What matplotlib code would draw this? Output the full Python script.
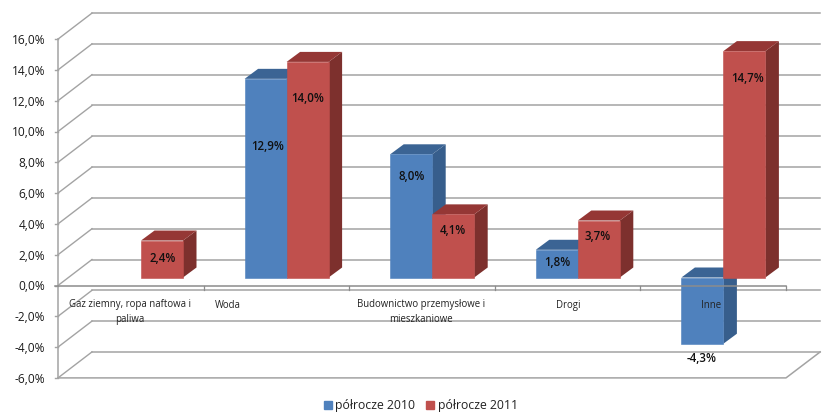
import matplotlib.pyplot as plt
from matplotlib.patches import Polygon, Patch

plt.rcParams["font.family"] = ["Open Sans", "DejaVu Sans"]

# Data
categories = ["Gaz ziemny, ropa naftowa i\npaliwa", "Woda",
              "Budownictwo przemysłowe i\nmieszkaniowe", "Drogi", "Inne"]
values_2010 = [None, 12.9, 8.0, 1.8, -4.3]
values_2011 = [2.4, 14.0, 4.1, 3.7, 14.7]
y_levels = [16, 14, 12, 10, 8, 6, 4, 2, 0, -2, -4, -6]
series_names = ["półrocze 2010", "półrocze 2011"]

# Pixel layout of the reference
X0, CAT_W = 58, 145.6
Y0, PCT_H = 285.5, 15.4


def px(x, y):
    # pixel position in the image -> data coordinates of the axes
    return (x - X0) / CAT_W, (Y0 - y) / PCT_H


# Label positions in pixels
cat_label_pos = [(130, 312), (228, 305.5), (421, 312), (568, 305.5), (711, 305.5)]
label_pos_2010 = [None, (268, 146), (412, 177), (557, 263), (702, 358)]
label_pos_2011 = [(163, 258), (308, 99), (453, 231), (598, 237), (748, 79)]

WALL_DX, WALL_DY = 34 / CAT_W, 26 / PCT_H
BAR_DX, BAR_DY = 13.5 / CAT_W, 10 / PCT_H
BAR_START = (99 - X0) / CAT_W
BAR_W = 42 / CAT_W
BASE = 8 / PCT_H

BLUE = ("#4F81BD", "#3B6494", "#375E8C")
RED = ("#C0504D", "#953735", "#7D302D")
GRID = "#A3A3A3"

fig = plt.figure(figsize=(8.37, 4.13), dpi=100)
ax = fig.add_axes([0, 0, 1, 1])
ax.set_xlim(px(0, 0)[0], px(837, 0)[0])
ax.set_ylim(px(0, 413)[1], px(0, 0)[1])
ax.axis("off")

n = len(categories)
x_end = n
back_x = x_end + WALL_DX + 0.0014

# Walls
for lev in y_levels:
    ax.plot([WALL_DX, back_x], [lev + WALL_DY, lev + WALL_DY], color=GRID, lw=1.1, zorder=1)
    ax.plot([0, WALL_DX], [lev, lev + WALL_DY], color=GRID, lw=1.0, zorder=1)
    ax.plot([-0.02, 0], [lev, lev], color=GRID, lw=1.0, zorder=1)
    ax.text(px(45.5, 0)[0], lev - 1.5 / PCT_H, f"{lev:.1f}%".replace(".", ","), ha="right",
            va="center", fontsize=8.6, color="#1a1a1a")
ax.plot([0, 0], [16, -6], color=GRID, lw=1.1, zorder=1)

# Floor
ax.plot([0, x_end, back_x], [-6, -6, -6 + WALL_DY], color=GRID, lw=1.1, zorder=1)


def draw_bar(left, val, colors):
    right = left + BAR_W
    base = BASE
    top = val + BASE
    upper = max(top, base)
    ax.add_patch(Polygon([(right, base), (right, top), (right + BAR_DX, top + BAR_DY),
                          (right + BAR_DX, base + BAR_DY)], fc=colors[2], ec="none", zorder=3))
    ax.add_patch(Polygon([(left, upper), (right, upper), (right + BAR_DX, upper + BAR_DY),
                          (left + BAR_DX, upper + BAR_DY)], fc=colors[1], ec="none", zorder=3))
    ax.bar(left, val, width=BAR_W, bottom=base, align="edge", color=colors[0],
           ec=colors[0], lw=0.4, zorder=3)


for i in range(n):
    if values_2010[i] is not None:
        draw_bar(i + BAR_START, values_2010[i], BLUE)
    if values_2011[i] is not None:
        draw_bar(i + BAR_START + BAR_W, values_2011[i], RED)

# Zero axis runs over the bars
ax.plot([-0.02, x_end], [0, 0], color="#8C8C8C", lw=1.1, zorder=4)
for i in range(1, n + 1):
    ax.plot([i, i], [0, -0.27], color="#8C8C8C", lw=0.9, zorder=4)

# Data labels
for vals, positions in [(values_2010, label_pos_2010), (values_2011, label_pos_2011)]:
    for v, pos in zip(vals, positions):
        if v is None:
            continue
        x, y = px(*pos)
        ax.text(x, y, f"{v:.1f}%".replace(".", ","), ha="center", va="center",
                fontsize=8.3, fontweight="semibold", color="#101010", zorder=6)

# Category labels
for name, pos in zip(categories, cat_label_pos):
    x, y = px(*pos)
    ax.text(x, y, name, ha="center", va="center", fontsize=6.9, color="#222222",
            linespacing=1.4, zorder=6)

handles = [Patch(color=BLUE[0], label=series_names[0]), Patch(color=RED[0], label=series_names[1])]
fig.legend(handles=handles, loc="center", bbox_to_anchor=(421 / 837, 1 - 406 / 413), ncol=2,
           frameon=False, fontsize=8.8, handlelength=0.62, handleheight=0.62,
           handletextpad=0.3, columnspacing=0.9, borderpad=0, labelcolor="#222222")

fig.savefig("out.png", dpi=100)
